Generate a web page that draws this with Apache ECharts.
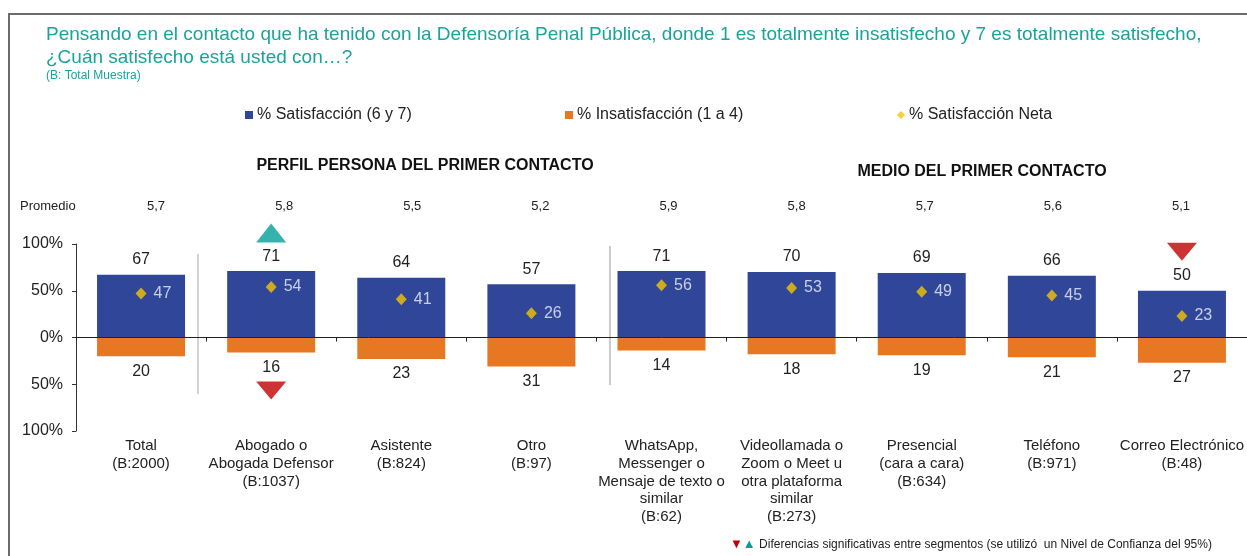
<!DOCTYPE html>
<html>
<head>
<meta charset="utf-8">
<script src="https://cdn.jsdelivr.net/npm/echarts@6/dist/echarts.min.js"></script>
<style>
  html, body { margin: 0; padding: 0; background: #fff; }
  #chart { width: 1247px; height: 556px; }
</style>
</head>
<body>
<div id="chart"></div>
<script>
// categorias (eje x)
const categories = [
  'Total\n(B:2000)',
  'Abogado o\nAbogada Defensor\n(B:1037)',
  'Asistente\n(B:824)',
  'Otro\n(B:97)',
  'WhatsApp,\nMessenger o\nMensaje de texto o\nsimilar\n(B:62)',
  'Videollamada o\nZoom o Meet u\notra plataforma\nsimilar\n(B:273)',
  'Presencial\n(cara a cara)\n(B:634)',
  'Teléfono\n(B:971)',
  'Correo Electrónico\n(B:48)'
]
const promedio = ['5,7', '5,8', '5,5', '5,2', '5,9', '5,8', '5,7', '5,6', '5,1']
const satisfaccion = [67, 71, 64, 57, 71, 70, 69, 66, 50]
const insatisfaccion = [20, 16, 23, 31, 14, 18, 19, 21, 27]
const neta = [47, 54, 41, 26, 56, 53, 49, 45, 23]
// diferencias significativas: 1 = sobre, -1 = bajo
const sigSatisfaccion = [0, 1, 0, 0, 0, 0, 0, 0, -1]
const sigInsatisfaccion = [0, -1, 0, 0, 0, 0, 0, 0, 0]
const yTicks = [-100, -50, 0, 50, 100]
const seriesNames = ['% Satisfacción (6 y 7)', '% Insatisfacción (1 a 4)', '% Satisfacción Neta']

const BLUE = '#2f4699'
const ORANGE = '#e87722'
const YELLOW = '#f5c400'
const TEAL = '#00a097'
const RED = '#c00000'
const FONT = 'Liberation Sans, Arial, sans-serif'

let chart = echarts.init(document.getElementById('chart'))

// triangulos sobre/bajo las barras
let upSat = []
let downSat = []
sigSatisfaccion.forEach((s, i) => {
  if (s === 1) upSat.push([i, satisfaccion[i]])
  if (s === -1) downSat.push([i, satisfaccion[i]])
})
let downInsat = []
sigInsatisfaccion.forEach((s, i) => {
  if (s === -1) downInsat.push([i, -insatisfaccion[i]])
})

const legendLeft = [245, 565, 897]
const legendIcons = ['rect', 'rect', 'diamond']
let legends = seriesNames.map((name, i) => ({
  left: legendLeft[i],
  top: 107,
  padding: 0,
  itemWidth: 8,
  itemHeight: 8,
  itemGap: 0,
  textStyle: { color: '#222', fontSize: 16, fontFamily: FONT, padding: [0, 0, 0, -1] },
  data: [{ name: name, icon: legendIcons[i] }]
}))

chart.setOption({
  animation: false,
  textStyle: { fontFamily: FONT },
  title: [
    {
      text: 'Pensando en el contacto que ha tenido con la Defensoría Penal Pública, donde 1 es totalmente insatisfecho y 7 es totalmente satisfecho,\n¿Cuán satisfecho está usted con…?',
      left: 46,
      top: 23,
      padding: 0,
      textStyle: { color: '#1aa39a', fontSize: 19, fontWeight: 'normal', lineHeight: 23, fontFamily: FONT }
    },
    {
      text: '(B: Total Muestra)',
      left: 46,
      top: 70,
      padding: 0,
      textStyle: { color: '#1aa39a', fontSize: 12, fontWeight: 'normal', fontFamily: FONT }
    },
    {
      text: 'PERFIL PERSONA DEL PRIMER CONTACTO',
      left: 425,
      top: 158,
      padding: 0,
      textAlign: 'center',
      textStyle: { color: '#111', fontSize: 16, fontWeight: 'bold', fontFamily: FONT }
    },
    {
      text: 'MEDIO DEL PRIMER CONTACTO',
      left: 982,
      top: 164,
      padding: 0,
      textAlign: 'center',
      textStyle: { color: '#111', fontSize: 16, fontWeight: 'bold', fontFamily: FONT }
    },
    {
      text: 'Promedio',
      left: 20,
      top: 200,
      padding: 0,
      textStyle: { color: '#222', fontSize: 13, fontWeight: 'normal', fontFamily: FONT }
    }
  ],
  legend: legends,
  grid: [
    { left: 76, top: 244, width: 1179, height: 187 },
    // fila de promedios
    { left: 92, top: 205, width: 1153, height: 1 }
  ],
  xAxis: [
    {
      // eje en cero
      type: 'category',
      data: categories,
      gridIndex: 0,
      z: 10,
      axisLine: { onZero: true, lineStyle: { color: '#222', width: 1 } },
      axisTick: { show: true, interval: 0, length: 4, lineStyle: { color: '#222' } },
      axisLabel: { show: false },
      splitLine: { show: false }
    },
    {
      // etiquetas abajo
      type: 'category',
      data: categories,
      gridIndex: 0,
      position: 'bottom',
      axisLine: { show: false, onZero: false },
      axisTick: { show: false },
      axisLabel: { color: '#222', fontSize: 15, lineHeight: 17.8, margin: 6, interval: 0, fontFamily: FONT }
    },
    {
      // promedios
      type: 'category',
      data: promedio,
      gridIndex: 1,
      position: 'top',
      axisLine: { show: false },
      axisTick: { show: false },
      axisLabel: { color: '#222', fontSize: 13, margin: -8, interval: 0, fontFamily: FONT }
    }
  ],
  yAxis: [
    {
      type: 'value',
      gridIndex: 0,
      min: -100,
      max: 100,
      interval: 50,
      axisLine: { show: true, lineStyle: { color: '#333' } },
      axisTick: { show: true, length: 4, lineStyle: { color: '#333' } },
      splitLine: { show: false },
      axisLabel: {
        color: '#222',
        fontSize: 16,
        margin: 13,
        fontFamily: FONT,
        formatter: v => yTicks.indexOf(v) >= 0 ? Math.abs(v) + '%' : ''
      }
    },
    {
      type: 'value',
      gridIndex: 1,
      show: false
    }
  ],
  series: [
    {
      name: seriesNames[0],
      type: 'bar',
      barWidth: 88,
      barGap: '-100%',
      data: satisfaccion,
      itemStyle: { color: BLUE },
      label: { show: true, position: 'top', distance: 7, color: '#222', fontSize: 16, fontFamily: FONT }
    },
    {
      name: seriesNames[1],
      type: 'bar',
      barWidth: 88,
      barGap: '-100%',
      data: insatisfaccion.map(v => -v),
      itemStyle: { color: ORANGE },
      label: {
        show: true,
        position: 'bottom',
        distance: 7,
        color: '#222',
        fontSize: 16,
        fontFamily: FONT,
        formatter: p => Math.abs(p.value)
      }
    },
    {
      name: seriesNames[2],
      type: 'scatter',
      data: neta,
      symbol: 'diamond',
      symbolSize: [11, 12],
      z: 5,
      itemStyle: { color: YELLOW },
      label: { show: true, position: 'right', distance: 7, color: '#eef0f8', fontSize: 16, fontFamily: FONT }
    },
    {
      name: 'sigUp',
      type: 'scatter',
      data: upSat,
      symbol: 'triangle',
      symbolSize: [30, 19],
      symbolOffset: [0, -38],
      clip: false,
      z: 5,
      itemStyle: { color: TEAL },
      silent: true
    },
    {
      name: 'sigDown',
      type: 'scatter',
      data: downSat,
      symbol: 'triangle',
      symbolSize: [30, 18],
      symbolRotate: 180,
      symbolOffset: [0, -39],
      clip: false,
      z: 5,
      itemStyle: { color: RED },
      silent: true
    },
    {
      name: 'sigDownInsat',
      type: 'scatter',
      data: downInsat,
      symbol: 'triangle',
      symbolSize: [30, 18],
      symbolRotate: 180,
      symbolOffset: [0, 38],
      clip: false,
      z: 5,
      itemStyle: { color: RED },
      silent: true
    }
  ],
  graphic: [
    {
      type: 'rect',
      shape: { x: 9, y: 14, width: 1300, height: 600 },
      style: { fill: 'none', stroke: '#6b6b6b', lineWidth: 2 },
      silent: true
    },
    {
      type: 'line',
      shape: { x1: 198, y1: 254, x2: 198, y2: 394 },
      style: { stroke: '#c4c4c4', lineWidth: 1.5 }
    },
    {
      type: 'line',
      shape: { x1: 610, y1: 246, x2: 610, y2: 385 },
      style: { stroke: '#a8a8a8', lineWidth: 1.2 }
    },
    {
      type: 'text',
      left: 730,
      top: 538,
      style: {
        text: '{r|▼}{t|▲} Diferencias significativas entre segmentos (se utilizó  un Nivel de Confianza del 95%)',
        fontSize: 12,
        fontFamily: FONT,
        fill: '#222',
        rich: {
          r: { fill: RED, fontSize: 13 },
          t: { fill: TEAL, fontSize: 13 }
        }
      }
    }
  ]
})
</script>
</body>
</html>
